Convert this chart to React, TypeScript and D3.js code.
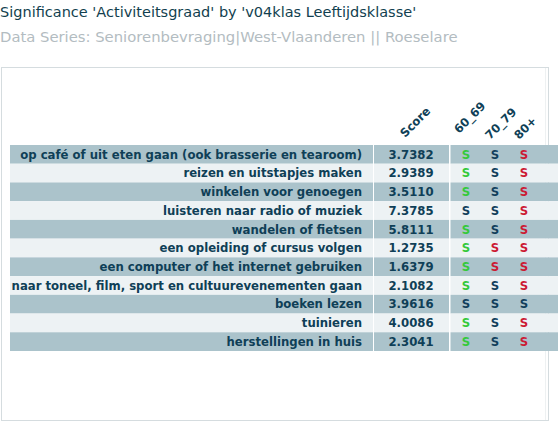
import React from "react";
import * as d3 from "d3";

const title = "Significance 'Activiteitsgraad' by 'v04klas Leeftijdsklasse'";
const subtitle = "Data Series: Seniorenbevraging|West-Vlaanderen || Roeselare";

const categories = [
  "op café of uit eten gaan (ook brasserie en tearoom)",
  "reizen en uitstapjes maken",
  "winkelen voor genoegen",
  "luisteren naar radio of muziek",
  "wandelen of fietsen",
  "een opleiding of cursus volgen",
  "een computer of het internet gebruiken",
  "naar toneel, film, sport en cultuurevenementen gaan",
  "boeken lezen",
  "tuinieren",
  "herstellingen in huis",
];
const scores = [3.7382, 2.9389, 3.511, 7.3785, 5.8111, 1.2735, 1.6379, 2.1082, 3.9616, 4.0086, 2.3041];
const groups = ["60_69", "70_79", "80+"];
// significance per group: g = higher (green), n = not significant, r = lower (red)
const sig60 = ["g", "g", "g", "n", "g", "g", "g", "g", "n", "g", "g"];
const sig70 = ["n", "n", "n", "n", "n", "r", "r", "n", "n", "n", "n"];
const sig80 = ["r", "r", "r", "r", "r", "r", "r", "r", "n", "r", "r"];

const W = 559;
const H = 431;
const FONT = "'DejaVu Sans', Verdana, sans-serif";
const DARK = "#0f3f57";
const sigColor: Record<string, string> = { g: "#35c93a", n: "#123f5c", r: "#cc1a33" };

export default function App() {
  const y = d3.scaleBand<number>().domain(d3.range(categories.length)).range([145, 351]).paddingInner(0);
  const sigX = d3.scalePoint<string>().domain(groups).range([466, 524]);
  const sigs = [sig60, sig70, sig80];
  const rowLeft = 10;
  const labelRight = 373;
  const scoreRight = 449;
  const rowRight = 558;
  const fs = 11.7;

  return (
    <div style={{ position: "absolute", left: 0, top: 0 }}>
      <svg width={W} height={H} style={{ display: "block", background: "#fff" }}>
        <text x={0} y={17} fontFamily={FONT} fontSize={14.5} fill="#123f4f">{title}</text>
        <text x={0} y={42} fontFamily={FONT} fontSize={14.8} fill="#b3bcc1">{subtitle}</text>
        <rect x={1.5} y={67.5} width={547} height={353} fill="#fff" stroke="#d5dcdf" strokeWidth={1} />
        <line x1={545.5} x2={545.5} y1={68} y2={420} stroke="#eef1f2" />
        {/* header */}
        <g fontFamily={FONT} fontSize={fs} fontWeight="bold" fill={DARK}>
          <text transform={`translate(405,138) rotate(-45)`}>Score</text>
          {groups.map((g, i) => (
            <text key={g} transform={`translate(${sigX(g)! - 5 + (i === 0 ? -2 : 0)},${i === 0 ? 134 : 140}) rotate(-45)`}>{g}</text>
          ))}
        </g>
        {categories.map((c, i) => {
          const top = y(i)!;
          const bh = y.bandwidth();
          const fill = i % 2 === 0 ? "#abc3cb" : "#edf2f4";
          const cy = top + bh / 2 + 4.3;
          return (
            <g key={c}>
              <rect x={rowLeft} y={top} width={labelRight - rowLeft} height={bh} fill={fill} />
              <rect x={labelRight + 1} y={top} width={scoreRight - labelRight - 1} height={bh} fill={fill} />
              <rect x={scoreRight + 1.5} y={top} width={rowRight - scoreRight - 1.5} height={bh} fill={fill} />
              <text x={362} y={cy} textAnchor="end" fontFamily={FONT} fontSize={fs} fontWeight="bold" fill={DARK}>{c}</text>
              <text x={411} y={cy} textAnchor="middle" fontFamily={FONT} fontSize={fs} fontWeight="bold" fill={DARK}>{scores[i].toFixed(4)}</text>
              {groups.map((g, j) => (
                <text key={g} x={sigX(g)} y={cy} textAnchor="middle" fontFamily={FONT} fontSize={fs} fontWeight="bold" fill={sigColor[sigs[j][i]]}>S</text>
              ))}
            </g>
          );
        })}
      </svg>
    </div>
  );
}
